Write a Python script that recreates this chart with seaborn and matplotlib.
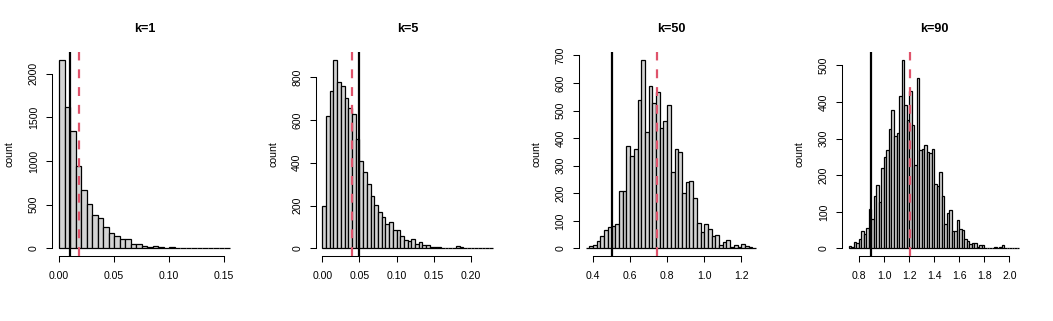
import numpy as np
import pandas as pd
import seaborn as sns
import matplotlib
matplotlib.use("Agg")
import matplotlib.pyplot as plt

sns.set_style("ticks")
plt.rcParams["font.family"] = ["Liberation Sans", "DejaVu Sans"]
plt.rcParams["text.color"] = "black"
plt.rcParams["axes.labelcolor"] = "black"
plt.rcParams["axes.edgecolor"] = "black"
plt.rcParams["xtick.color"] = "black"
plt.rcParams["ytick.color"] = "black"

# panel titles
titles = ["k=1", "k=5", "k=50", "k=90"]

# first bin edge and bin width of each histogram
bin_starts = [0.0, 0.0, 0.36, 0.72]
bin_widths = [0.005, 0.005, 0.02, 0.02]

# bin counts
counts_k1 = [2160, 1618, 1347, 946, 675, 505, 386, 352, 247, 175,
             142, 106, 106, 49, 49, 27, 15, 23, 15, 8,
             15, 8, 5, 4, 3, 2, 2, 2, 5, 2, 1]
counts_k5 = [200, 620, 735, 880, 775, 760, 704, 657, 629, 513,
             409, 358, 302, 246, 203, 170, 147, 113, 122, 87,
             87, 59, 40, 37, 42, 20, 28, 17, 15, 5,
             9, 8, 4, 4, 3, 2, 10, 6, 2, 2,
             1, 1, 1, 1, 1, 1]
counts_k50 = [3, 8, 13, 26, 45, 66, 77, 81, 88, 207,
              207, 370, 334, 359, 540, 684, 424, 590, 529, 567,
              438, 461, 520, 278, 359, 351, 202, 240, 245, 183,
              92, 59, 90, 69, 45, 48, 13, 23, 30, 7,
              12, 6, 16, 10, 5, 2]
counts_k90 = [6, 4, 18, 15, 26, 48, 39, 55, 108, 80,
              143, 173, 128, 219, 251, 269, 325, 379, 308, 315,
              416, 515, 392, 350, 429, 336, 227, 466, 268, 271,
              282, 263, 261, 272, 176, 170, 208, 143, 67, 98,
              104, 48, 48, 77, 52, 50, 26, 20, 11, 14,
              15, 4, 9, 9, 2, 1, 1, 1, 3, 2,
              3, 10, 1, 1, 1, 1, 1, 1]

# solid black line and dashed red line positions
true_vals = [0.01, 0.05, 0.5, 0.9]
mean_vals = [0.0181, 0.0404, 0.745, 1.21]

x_ticks = [[0.0, 0.05, 0.10, 0.15],
           [0.0, 0.05, 0.10, 0.15, 0.20],
           [0.4, 0.6, 0.8, 1.0, 1.2],
           [0.8, 1.0, 1.2, 1.4, 1.6, 1.8, 2.0]]
x_labels = [["0.00", "0.05", "0.10", "0.15"],
            ["0.00", "0.05", "0.10", "0.15", "0.20"],
            ["0.4", "0.6", "0.8", "1.0", "1.2"],
            ["0.8", "1.0", "1.2", "1.4", "1.6", "1.8", "2.0"]]
y_ticks = [[0, 500, 1000, 1500, 2000],
           [0, 200, 400, 600, 800],
           [0, 100, 200, 300, 400, 500, 600, 700],
           [0, 100, 200, 300, 400, 500]]

all_counts = [counts_k1, counts_k5, counts_k50, counts_k90]

W, H = 1053, 321
fig = plt.figure(figsize=(W / 100, H / 100), dpi=100)

panel_w = W / 4
for i in range(4):
    counts = all_counts[i]
    edges = bin_starts[i] + bin_widths[i] * np.arange(len(counts) + 1)
    df = pd.DataFrame({"value": edges[:-1] + bin_widths[i] / 2, "n": counts})

    left = i * panel_w + 52.3
    ax = fig.add_axes([left / W, 65 / H, 184.15 / W, 203.7 / H])
    sns.histplot(data=df, x="value", weights="n", bins=edges.tolist(), color="#D3D3D3",
                 edgecolor="black", linewidth=0.9, alpha=1, ax=ax)

    ax.axvline(true_vals[i], color="black", lw=1.6, zorder=5)
    ax.axvline(mean_vals[i], color="#DF536B", lw=1.6, ls=(0, (4, 4)), zorder=5)

    rng = edges[-1] - edges[0]
    ax.set_xlim(edges[0] - 0.04 * rng, edges[-1] + 0.04 * rng)
    top = max(counts)
    ax.set_ylim(-0.04 * top, 1.04 * top)

    ax.set_xticks(x_ticks[i])
    ax.set_xticklabels(x_labels[i])
    ax.set_yticks(y_ticks[i])
    ax.set_yticklabels([str(v) for v in y_ticks[i]], rotation=90, va="center")
    ax.tick_params(axis="both", length=4.6, width=0.75, labelsize=7.6, color="black")
    ax.tick_params(axis="x", pad=6.5)
    ax.tick_params(axis="y", pad=5)

    for s in ["top", "right"]:
        ax.spines[s].set_visible(False)
    ax.spines["bottom"].set_bounds(x_ticks[i][0], x_ticks[i][-1])
    ax.spines["left"].set_bounds(y_ticks[i][0], y_ticks[i][-1])
    ax.spines["bottom"].set_linewidth(0.75)
    ax.spines["left"].set_linewidth(0.75)

    ax.set_xlabel("")
    ax.set_ylabel("count", fontsize=7.6)
    ax.yaxis.set_label_coords(-0.203, 0.5)
    ax.set_title(titles[i], fontsize=9.1, fontweight="bold", pad=14.8)

fig.savefig("out.png", dpi=100)
